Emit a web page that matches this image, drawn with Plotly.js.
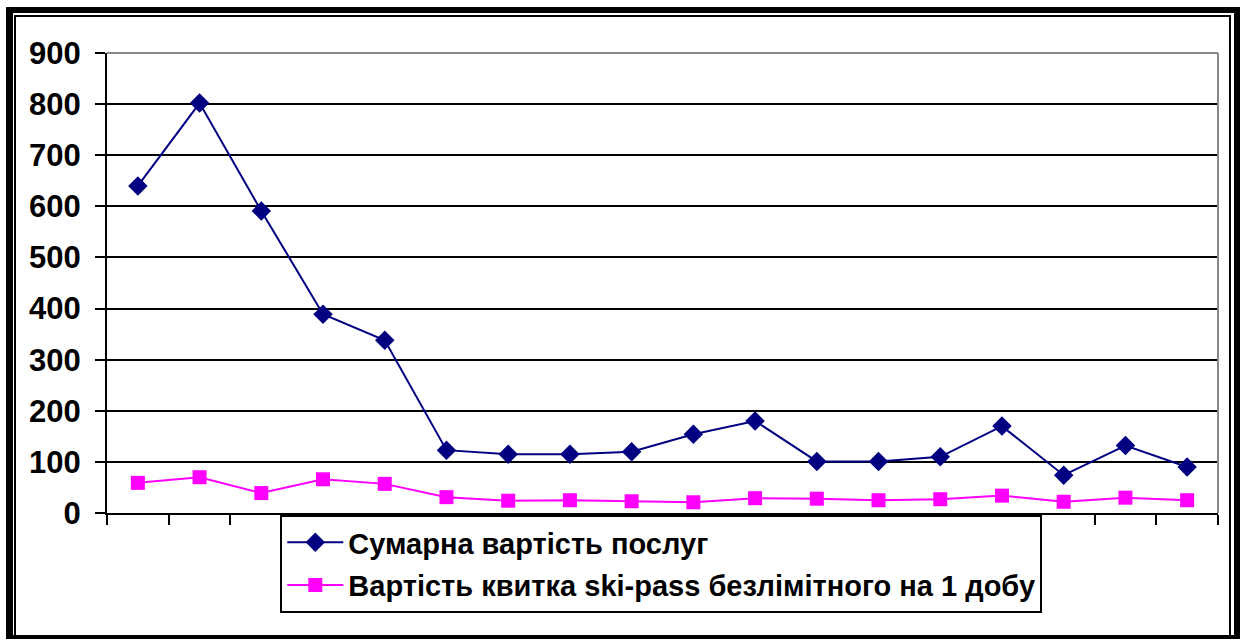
<!DOCTYPE html>
<html>
<head>
<meta charset="utf-8">
<script src="https://cdn.plot.ly/plotly-3.0.1.min.js"></script>
<style>
  html, body { margin: 0; padding: 0; background: #fff; }
  #wrap { position: relative; width: 1241px; height: 642px; overflow: hidden; }
  #chart { position: absolute; left: 0; top: 0; width: 1241px; height: 642px; }
  .frameOuter { position: absolute; left: 6px; top: 7px; width: 1221px; height: 622px;
    border-style: solid; border-color: #000; border-width: 6px 6px 4px 7px; pointer-events: none; }
  .frameInner { position: absolute; left: 14px; top: 15px; width: 1213px; height: 618px;
    border: 2px solid #000; pointer-events: none; }
</style>
</head>
<body>
<div id="wrap">
  <div id="chart"></div>
  <div class="frameOuter"></div>
  <div class="frameInner"></div>
</div>
<script>
const categories = ["1","2","3","4","5","6","7","8","9","10","11","12","13","14","15","16","17","18"];
const totalCost = [640, 802, 591, 389, 338, 123, 115, 115, 120, 154, 180, 101, 101, 110, 170, 74, 132, 90];
const skiPass = [59, 70, 39, 66, 57, 31, 24, 25, 23, 21, 29, 28, 25, 27, 34, 22, 30, 25];
const seriesNames = ["Сумарна вартість послуг", "Вартість квитка ski-pass безлімітного на 1 добу"];
const yTicks = [0, 100, 200, 300, 400, 500, 600, 700, 800, 900];

const traces = [
  {
    x: categories, y: totalCost, name: seriesNames[0], type: "scatter", mode: "lines+markers",
    line: { color: "#000080", width: 2 },
    marker: { symbol: "diamond", size: 15, color: "#000080" },
    legendgroup: "a"
  },
  {
    x: categories, y: skiPass, name: seriesNames[1], type: "scatter", mode: "lines+markers",
    line: { color: "#FF00FF", width: 2 },
    marker: { symbol: "square", size: 14, color: "#FF00FF" },
    legendgroup: "b"
  }
];

const layout = {
  width: 1241, height: 642,
  margin: { l: 107, r: 23, t: 53, b: 129 },
  paper_bgcolor: "#fff", plot_bgcolor: "#fff",
  font: { family: "Liberation Sans, Arial, sans-serif", color: "#000" },
  showlegend: true,
  legend: {
    x: 0.156, xanchor: "left", y: -0.004, yanchor: "top",
    bgcolor: "#fff", bordercolor: "#000", borderwidth: 2,
    font: { size: 29, family: "Liberation Sans, Arial, sans-serif", weight: "bold", color: "#000" },
    itemwidth: 56, tracegroupgap: 2
  },
  xaxis: {
    type: "category", range: [-0.5, 17.5], fixedrange: true,
    showticklabels: false, ticks: "outside", tickson: "boundaries", ticklen: 10, tickwidth: 2, tickcolor: "#000",
    showline: true, linecolor: "#000", linewidth: 2, showgrid: false, zeroline: false
  },
  yaxis: {
    range: [0, 900], tickvals: yTicks, ticktext: yTicks.map(String),
    ticks: "outside", ticklen: 10, tickwidth: 2, tickcolor: "#000",
    showline: true, linecolor: "#000", linewidth: 2,
    showgrid: true, gridcolor: "#000", gridwidth: 2, zeroline: false,
    tickfont: { size: 31, family: "Liberation Sans, Arial, sans-serif", weight: "bold", color: "#000" },
    ticklabelstandoff: 8
  },
  shapes: [
    { type: "line", xref: "paper", yref: "paper", x0: 0, x1: 1, y0: 1, y1: 1, line: { color: "#888", width: 2 } },
    { type: "line", xref: "paper", yref: "paper", x0: 1, x1: 1, y0: 0, y1: 1, line: { color: "#888", width: 2 } }
  ]
};

Plotly.newPlot("chart", traces, layout, { displayModeBar: false, staticPlot: true });
</script>
</body>
</html>
